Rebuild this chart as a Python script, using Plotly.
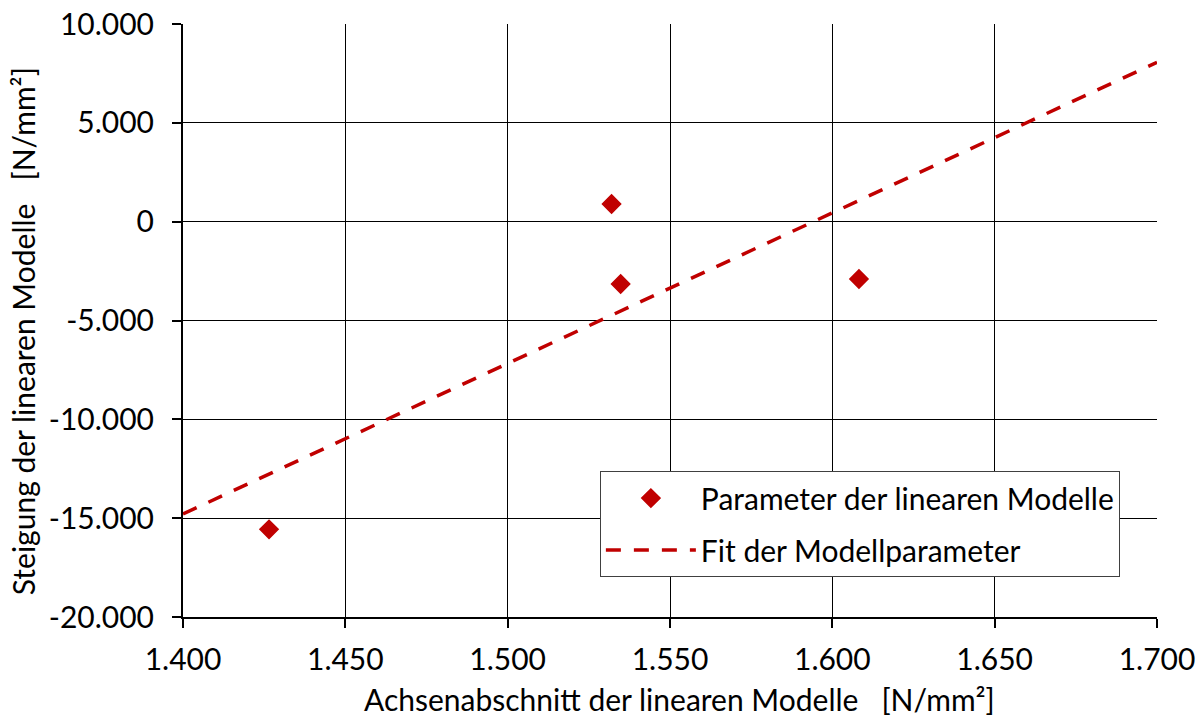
import plotly.graph_objects as go

# Parameters of the individual linear models
achsenabschnitt = [1426.5, 1532.0, 1534.8, 1608.2]
steigung = [-15563, 894, -3153, -2900]

# Fitted line through the model parameters (end points)
fit_x = [1400, 1700]
fit_y = [-14789, 8062]

# Axis ticks
x_ticks = [1400, 1450, 1500, 1550, 1600, 1650, 1700]
x_ticktext = ["1.400", "1.450", "1.500", "1.550", "1.600", "1.650", "1.700"]
y_ticks = [-20000, -15000, -10000, -5000, 0, 5000, 10000]
y_ticktext = ["-20.000", "-15.000", "-10.000", "-5.000", "0", "5.000", "10.000"]

RED = "#C00000"
FONT = "Lato"
FS = 30

fig = go.Figure()

fig.add_trace(go.Scatter(
    x=achsenabschnitt, y=steigung, mode="markers",
    name="Parameter der linearen Modelle",
    legendgroup="a",
    marker=dict(symbol="diamond", size=14, color=RED,
                line=dict(color=RED, width=1.5)),
))

fig.add_trace(go.Scatter(
    x=fit_x, y=fit_y, mode="lines",
    name="Fit der Modellparameter",
    legendgroup="b",
    line=dict(color=RED, width=3.5, dash="15px,13px"),
))

axis_common = dict(
    showline=True, linecolor="black", linewidth=2,
    ticks="outside", ticklen=9, tickwidth=2, tickcolor="black",
    showgrid=True, gridcolor="black", gridwidth=1,
    zeroline=False, automargin=False,
    tickfont=dict(family=FONT, size=FS, color="black"),
)

fig.update_xaxes(range=[1400, 1700], tickvals=x_ticks, ticktext=x_ticktext,
                 ticklabelstandoff=6, **axis_common)
fig.update_yaxes(range=[-20000, 10000], tickvals=y_ticks, ticktext=y_ticktext,
                 ticklabelstandoff=12, **axis_common)

fig.add_annotation(
    text="Achsenabschnitt der linearen Modelle   [N/mm²]",
    xref="paper", yref="paper", x=0.510, y=-0.139,
    xanchor="center", yanchor="middle", showarrow=False,
    font=dict(family=FONT, size=FS, color="black"),
)
fig.add_annotation(
    text="Steigung der linearen Modelle   [N/mm²]",
    xref="paper", yref="paper", x=-0.1642, y=0.482,
    xanchor="center", yanchor="middle", showarrow=False, textangle=-90,
    font=dict(family=FONT, size=FS, color="black"),
)

fig.update_layout(
    width=1203, height=719,
    margin=dict(l=183, r=46, t=24, b=102),
    paper_bgcolor="white", plot_bgcolor="white",
    showlegend=True,
    legend=dict(
        x=0.428, y=0.246, xanchor="left", yanchor="top",
        bgcolor="white", bordercolor="#404040", borderwidth=1,
        font=dict(family=FONT, size=FS, color="black"),
        tracegroupgap=10, traceorder="grouped", itemwidth=90,
    ),
    font=dict(family=FONT, size=FS, color="black"),
)

fig.write_html("out.html")
